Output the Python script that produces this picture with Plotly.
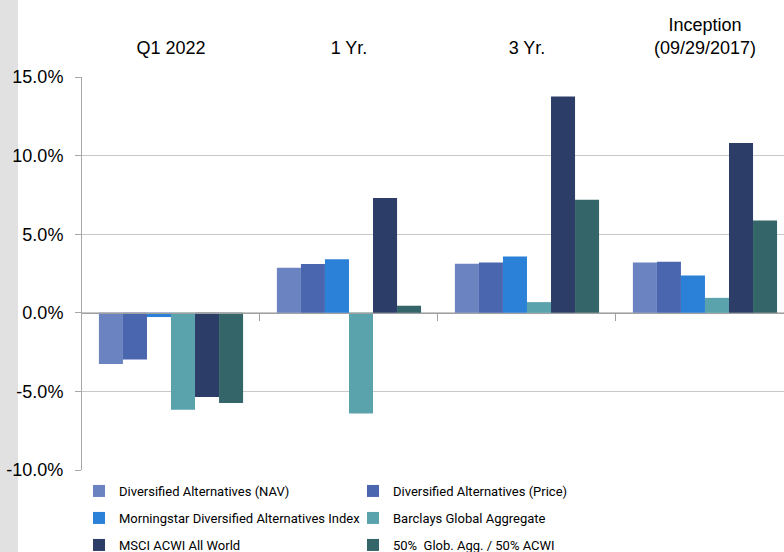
import plotly.graph_objects as go

categories = ["Q1 2022", "1 Yr.", "3 Yr.", "Inception<br>(09/29/2017)"]
series_names = [
    "Diversified Alternatives (NAV)",
    "Diversified Alternatives (Price)",
    "Morningstar Diversified Alternatives Index",
    "Barclays Global Aggregate",
    "MSCI ACWI All World",
    "50%  Glob. Agg. / 50% ACWI",
]
nav = [-3.26, 2.86, 3.12, 3.20]
price = [-2.97, 3.10, 3.20, 3.24]
morningstar = [-0.27, 3.40, 3.58, 2.37]
barclays = [-6.17, -6.40, 0.68, 0.95]
msci = [-5.36, 7.30, 13.76, 10.80]
blend = [-5.74, 0.45, 7.19, 5.87]
y_ticks = [-10, -5, 0, 5, 10, 15]
y_tick_labels = ["-10.0%", "-5.0%", "0.0%", "5.0%", "10.0%", "15.0%"]

series_values = [nav, price, morningstar, barclays, msci, blend]
colors = ["#6b83c0", "#4966ae", "#2b80d8", "#5aa3ad", "#2c3d68", "#346569"]

FONT = "Liberation Sans, Arial, sans-serif"
LEG_FONT = "Roboto, Liberation Sans, sans-serif"

W, H = 784, 552
L, R, T, B = 82, 0, 77, 82
pw = W - L - R

fig = go.Figure()
x_pos = list(range(len(categories)))
legend_ids = ["legend", "legend2", "legend3", "legend4", "legend5", "legend6"]
for name, vals, col, lg in zip(series_names, series_values, colors, legend_ids):
    fig.add_trace(go.Bar(
        x=x_pos, y=vals, name=name, marker_color=col,
        marker_line_width=0, legend=lg,
    ))

# legend grid: two columns, three rows (pixel positions of page)
col_x = [79, 353]
row_y = [491, 518, 545]
legend_layout = {}
for i, lg in enumerate(legend_ids):
    cx = col_x[i % 2]
    ry = row_y[i // 2]
    legend_layout[lg] = dict(
        xref="container", yref="container",
        x=cx / W, xanchor="left", y=1 - ry / H, yanchor="middle",
        orientation="v", font=dict(family=LEG_FONT, size=13, color="#000000"),
        bgcolor="rgba(0,0,0,0)", borderwidth=0, itemwidth=30,
    )

fig.update_layout(
    template="none",
    width=W, height=H,
    margin=dict(l=L, r=R, t=T, b=B, pad=0, autoexpand=False),
    paper_bgcolor="white", plot_bgcolor="white",
    barmode="group", bargap=0.19, bargroupgap=0,
    font=dict(family=FONT, size=16, color="#000000"),
    xaxis=dict(
        range=[-0.5, 3.444], side="top", tickvals=x_pos, ticktext=categories,
        showgrid=False, showline=False, zeroline=False, ticks="",
        tickfont=dict(size=18), ticklabelstandoff=18, automargin=False,
    ),
    xaxis2=dict(
        range=[-0.5, 3.444], overlaying="x", anchor="free", position=0.4,
        side="bottom", tickvals=[0.5, 1.5, 2.5], showticklabels=False,
        ticks="outside", ticklen=7, tickcolor="#a0a0a0",
        showline=True, linecolor="#a0a0a0", linewidth=1, showgrid=False,
        zeroline=False, automargin=False,
    ),
    yaxis=dict(
        range=[-10, 15], tickvals=y_ticks, ticktext=y_tick_labels,
        showgrid=True, gridcolor="#c8c8c8", gridwidth=1,
        showline=True, linecolor="#a8a8a8", linewidth=1,
        ticks="outside", ticklen=6, tickcolor="#a8a8a8",
        zeroline=False, tickfont=dict(size=18), ticklabelstandoff=8,
        automargin=False,
    ),
    showlegend=True,
    **legend_layout,
)

# invisible trace so that the zero-line axis (xaxis2) is drawn
fig.add_trace(go.Scatter(x=[0], y=[0], xaxis="x2", mode="markers",
                         marker=dict(opacity=0), showlegend=False, hoverinfo="skip"))

# grey strip on the left edge of the page
fig.add_shape(type="rect", xref="paper", yref="paper",
              x0=(0 - L) / pw, x1=(18 - L) / pw, y0=-1, y1=2,
              fillcolor="#e1e1e1", line_width=0, layer="below")

fig.write_html("out.html", config={"displayModeBar": False},
               post_script="document.body.style.margin='0px';")
